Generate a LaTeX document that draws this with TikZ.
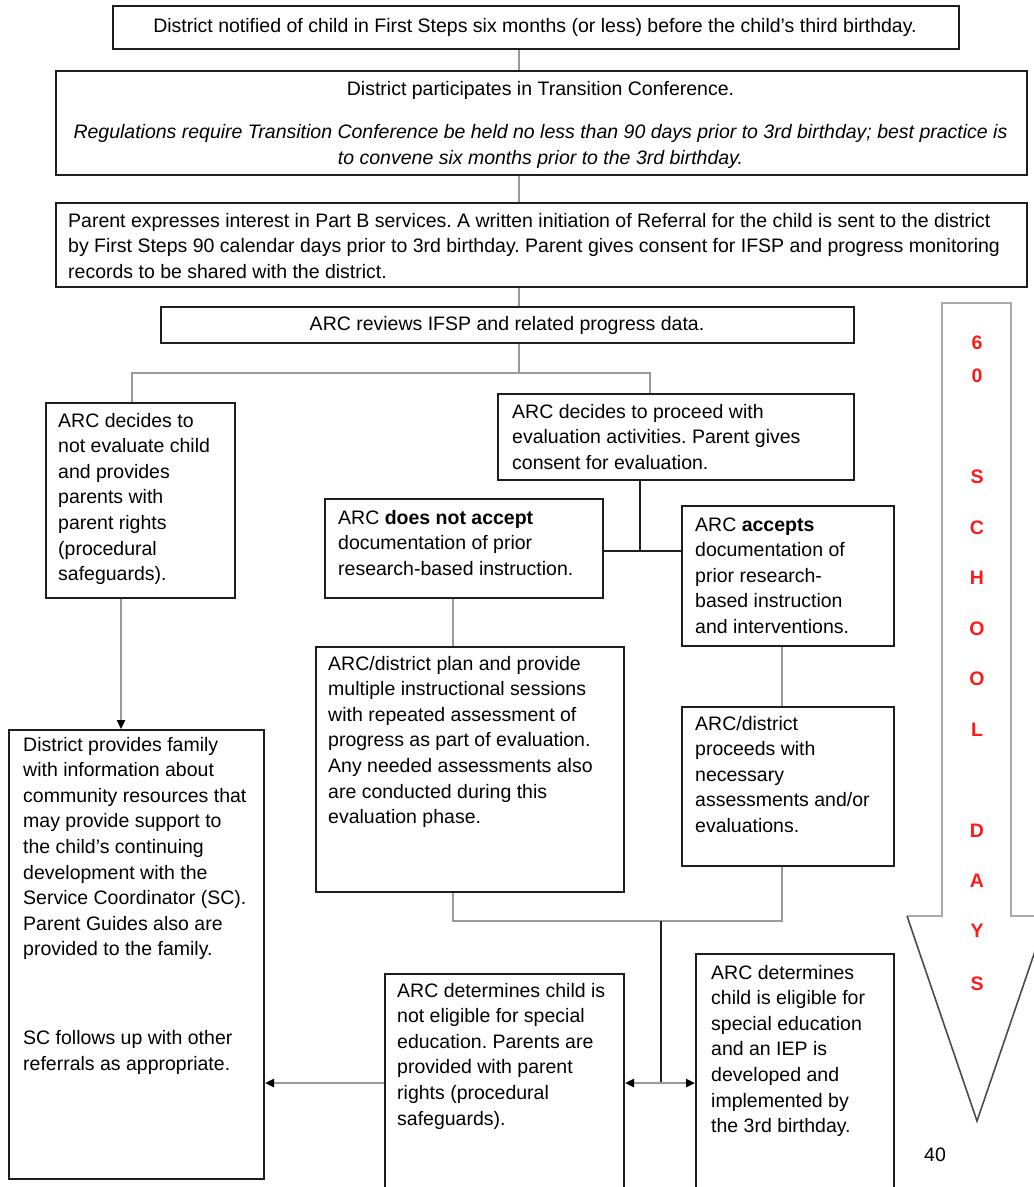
\documentclass[tikz,border=0pt]{standalone}
\usepackage{fontspec}
\setmainfont{Liberation Sans}
\usetikzlibrary{arrows.meta}
\frenchspacing

\definecolor{linegray}{HTML}{9A9A9A}
\definecolor{boxline}{HTML}{1E1E1E}
\definecolor{daysred}{HTML}{FF1A1A}

\newcommand{\bodyfont}{\fontsize{19.5}{25.6}\selectfont}
% box: name, left, top, width, height
\newcommand{\flowbox}[5]{%
  \node[box, minimum width=#4pt, minimum height=#5pt] (#1) at (#2,#3) {};}

\tikzset{
  box/.style={draw=boxline, line width=2pt, inner sep=0pt, anchor=north west},
  txt/.style={inner sep=0pt, anchor=base west, font=\bodyfont, text=black},
  ctxt/.style={inner sep=0pt, anchor=base, font=\bodyfont, text=black},
  conn/.style={draw=linegray, line width=2.6pt},
  darkconn/.style={draw=boxline, line width=2pt},
  arr/.style={draw=linegray, line width=2.4pt,
    -{Triangle[length=9pt,width=8pt,color=black]}},
  daysletter/.style={inner sep=0pt, anchor=center, text=daysred,
    font=\bodyfont\bfseries},
  shaft/.style={draw=linegray!85, line width=2.6pt},
  headline/.style={draw=boxline!80, line width=1.6pt},
}

\begin{document}
\begin{tikzpicture}[x=1pt, y=-1pt]
\clip (0,0) rectangle (1034,1187);
\useasboundingbox (0,0) rectangle (1034,1187);

% ---------- boxes ----------
\flowbox{b1}{112}{5}{846}{43}
\flowbox{b2}{55}{70}{971}{104}
\flowbox{b3}{55}{202}{971}{84}
\flowbox{b4}{160}{306}{693}{36}
\flowbox{b5}{45}{402}{189}{195}
\flowbox{b6}{497}{393}{356}{86}
\flowbox{b7}{324}{498}{278}{99}
\flowbox{b8}{681}{505}{212}{140}
\flowbox{b12}{315}{646}{308}{245}
\flowbox{b13}{681}{706}{212}{159}
\flowbox{b9}{8}{729}{255}{449}
\flowbox{b10}{384}{973}{239}{240}
\flowbox{b11}{695}{953}{198}{260}

% ---------- texts ----------
\node[ctxt] (b1t) at (535,32) {District notified of child in First Steps six months (or less) before the child's third birthday.};

\node[ctxt] (b2t) at (540.5,95) {\parbox[t]{960pt}{\centering
  District participates in Transition Conference.\\[18pt]
  \itshape Regulations require Transition Conference be held no less than 90 days prior to 3rd birthday; best practice is\\
  to convene six months prior to the 3rd birthday.}};

\node[txt] (b3t) at (68,227) {\parbox[t]{950pt}{%
  Parent expresses interest in Part B services. A written initiation of Referral for the child is sent to the district\\
  by First Steps 90 calendar days prior to 3rd birthday. Parent gives consent for IFSP and progress monitoring\\
  records to be shared with the district.}};

\node[ctxt] (b4t) at (507,330) {ARC reviews IFSP and related progress data.};

\node[txt] (b5t) at (58,427) {\parbox[t]{175pt}{%
  ARC decides to\\not evaluate child\\and provides\\parents with\\parent rights\\(procedural\\safeguards).}};

\node[txt] (b6t) at (512,418) {\parbox[t]{340pt}{%
  ARC decides to proceed with\\evaluation activities. Parent gives\\consent for evaluation.}};

\node[txt] (b7t) at (338,524) {\parbox[t]{262pt}{%
  ARC \textbf{does not accept}\\documentation of prior\\research-based instruction.}};

\node[txt] (b8t) at (695,531) {\parbox[t]{196pt}{%
  ARC \textbf{accepts}\\documentation of\\prior research-\\based instruction\\and interventions.}};

\node[txt] (b12t) at (328,670) {\parbox[t]{292pt}{%
  ARC/district plan and provide\\multiple instructional sessions\\with repeated assessment of\\progress as part of evaluation.\\Any needed assessments also\\are conducted during this\\evaluation phase.}};

\node[txt] (b13t) at (695,730) {\parbox[t]{196pt}{%
  ARC/district\\proceeds with\\necessary\\assessments and/or\\evaluations.}};

\node[txt] (b9t) at (23,751) {\parbox[t]{238pt}{%
  District provides family\\with information about\\community resources that\\may provide support to\\the child's continuing\\development with the\\Service Coordinator (SC).\\Parent Guides also are\\provided to the family.\\[63pt]
  SC follows up with other\\referrals as appropriate.}};

\node[txt] (b10t) at (397,997) {\parbox[t]{224pt}{%
  ARC determines child is\\not eligible for special\\education. Parents are\\provided with parent\\rights (procedural\\safeguards).}};

\node[txt] (b11t) at (711,979) {\parbox[t]{182pt}{%
  ARC determines\\child is eligible for\\special education\\and an IEP is\\developed and\\implemented by\\the 3rd birthday.}};

% ---------- connectors ----------
\coordinate (trunk) at (519,0);
\coordinate (splitL) at (132,373);
\coordinate (splitM) at (519,373);
\coordinate (splitR) at (650,373);
\coordinate (colL) at (121,0);
\coordinate (colA) at (453,0);
\coordinate (colB) at (782,0);
\coordinate (jn) at (640,551);
\coordinate (mA) at (453,921);
\coordinate (mB) at (782,921);
\coordinate (mC) at (661,921);
\coordinate (fork) at (661,1083);

\draw[conn] (trunk |- b1.south) -- (trunk |- b2.north);
\draw[conn] (trunk |- b2.south) -- (trunk |- b3.north);
\draw[conn] (trunk |- b3.south) -- (trunk |- b4.north);
\draw[conn] (trunk |- b4.south) -- (splitM);
\draw[conn] (splitL |- b5.north) -- (splitL) -- (splitR) -- (splitR |- b6.north);

\draw[darkconn] (jn |- b6.south) -- (jn);
\draw[darkconn] (b7.east |- jn) -- (b8.west |- jn);

\draw[conn] (colA |- b7.south) -- (colA |- b12.north);
\draw[conn] (colB |- b8.south) -- (colB |- b13.north);
\draw[conn] (colA |- b12.south) -- (mA) -- (mB) -- (colB |- b13.south);
\draw[darkconn] (mC) -- (fork);

\draw[arr] (colL |- b5.south) -- (colL |- b9.north);
\draw[arr] (fork) -- (b10.east |- fork);
\draw[arr] (fork) -- (b11.west |- fork);
\draw[arr] (b10.west |- fork) -- (b9.east |- fork);

% ---------- 60 school days arrow ----------
\draw[shaft] (907,916) -- (942,916) -- (942,303) -- (1011,303) -- (1011,916) -- (1047,916);
\draw[headline] (907,916) -- (977,1121) -- (1047,916);

\node[daysletter] (d1) at (977,343) {6};
\node[daysletter] (d2) at (977,376) {0};
\node[daysletter] (d3) at (977,477) {S};
\node[daysletter] (d4) at (977,528) {C};
\node[daysletter] (d5) at (977,578) {H};
\node[daysletter] (d6) at (977,629) {O};
\node[daysletter] (d7) at (977,679) {O};
\node[daysletter] (d8) at (977,730) {L};
\node[daysletter] (d9) at (977,831) {D};
\node[daysletter] (d10) at (977,881) {A};
\node[daysletter] (d11) at (977,931) {Y};
\node[daysletter] (d12) at (977,984) {S};

\node[ctxt] (pg) at (935,1161) {40};
\end{tikzpicture}
\end{document}
